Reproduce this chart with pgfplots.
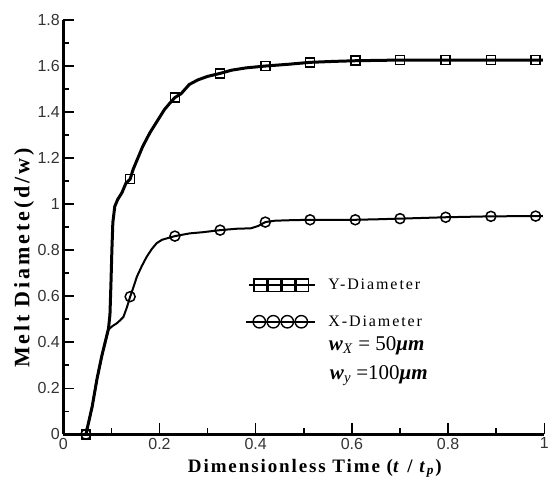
\documentclass[border=0pt]{standalone}
\usepackage{fontspec}
\setmainfont{Liberation Serif}
\newfontfamily\tickfont{Liberation Sans}
\newfontfamily\xlabfont[LetterSpace=10]{Liberation Serif}
\newfontfamily\ylabfont[LetterSpace=13]{Liberation Serif}
\newfontfamily\legfont[LetterSpace=12]{Liberation Serif}
\usepackage{pgfplots}
\pgfplotsset{compat=1.18}
\begin{document}
\begin{tikzpicture}
\begin{axis}[
  scale only axis, width=481pt, height=414.3pt,
  xmin=0, xmax=1, ymin=0, ymax=1.8,
  axis lines=left, axis line style={-, line width=2.5pt},
  tick align=inside, major tick length=11pt, minor tick length=6pt,
  tick style={black, line width=1.5pt},
  minor x tick num=1, minor y tick num=1,
  xtick={0,0.2,0.4,0.6,0.8,1},
  ytick={0,0.2,0.4,0.6,0.8,1,1.2,1.4,1.6,1.8},
  /pgf/number format/assume math mode=true,
  tick label style={font=\fontsize{16}{19}\tickfont, text=black!80},
  clip=false,
  xlabel={\fontsize{19}{20}\xlabfont\bfseries Dimensionless Time (\textit{t} / \textit{t}\textsubscript{\textit{p}})},
  xlabel style={at={(axis description cs:0.523,-0.091)}, anchor=base},
  ylabel={\fontsize{22}{22}\ylabfont\bfseries Melt Diamete(d/w)},
  ylabel style={at={(axis description cs:-0.0817,0.425)}, anchor=center},
  legend style={draw=none, fill=none, inner sep=0pt, row sep=24pt, column sep=12pt,
    font=\fontsize{16}{16}\legfont, at={(axis cs:0.378,0.675)}, anchor=north west,
    nodes={inner sep=0pt}},
  legend cell align=left,
]
\addplot[black, line width=3pt,
  legend image code/.code={
    \draw[black, line width=2pt] (0pt,0pt) -- (66pt,0pt);
    \draw[black, line width=1.4pt] plot[only marks, mark=square, mark size=6.2pt]
      coordinates {(11pt,0pt) (25pt,0pt) (39pt,0pt) (53pt,0pt)};
  }] coordinates {
(0.047,0) (0.060,0.12) (0.070,0.24) (0.080,0.34) (0.094,0.46) (0.097,0.52)
(0.099,0.65) (0.101,0.80) (0.103,0.92) (0.107,0.99) (0.113,1.02) (0.122,1.05)
(0.130,1.09) (0.139,1.109) (0.145,1.15) (0.155,1.20) (0.165,1.25) (0.180,1.31)
(0.195,1.36) (0.210,1.41) (0.222,1.44) (0.232,1.463) (0.245,1.48) (0.262,1.52)
(0.280,1.54) (0.300,1.555) (0.326,1.568) (0.350,1.582) (0.380,1.592) (0.420,1.600)
(0.470,1.608) (0.513,1.616) (0.560,1.620) (0.607,1.623) (0.700,1.626) (0.795,1.626)
(0.889,1.626) (0.982,1.626) (0.997,1.626)};
\addlegendentry{Y-Diameter}
\addplot[black, line width=2pt,
  legend image code/.code={
    \draw[black, line width=2pt] (-3pt,0pt) -- (66pt,0pt);
    \draw[black, line width=1.4pt] plot[only marks, mark=o, mark size=6.2pt]
      coordinates {(10pt,0pt) (24pt,0pt) (38pt,0pt) (52pt,0pt)};
  }] coordinates {
(0.047,0) (0.060,0.12) (0.070,0.24) (0.080,0.34) (0.094,0.455) (0.102,0.47)
(0.111,0.482) (0.118,0.495) (0.125,0.51) (0.132,0.55) (0.139,0.598) (0.146,0.64)
(0.153,0.685) (0.163,0.73) (0.173,0.77) (0.184,0.805) (0.194,0.83) (0.205,0.845)
(0.215,0.851) (0.232,0.861) (0.25,0.868) (0.263,0.873) (0.29,0.878) (0.326,0.887)
(0.36,0.893) (0.39,0.895) (0.405,0.905) (0.42,0.922) (0.44,0.928) (0.47,0.930)
(0.513,0.932) (0.607,0.932) (0.65,0.934) (0.70,0.937) (0.795,0.943) (0.889,0.947)
(0.982,0.948) (0.997,0.948)};
\addlegendentry{X-Diameter}
\addplot[black, only marks, mark=square, mark size=4.5pt, mark options={line width=1.5pt}, forget plot] coordinates {
(0.047,0) (0.139,1.109) (0.232,1.463) (0.326,1.568) (0.42,1.60) (0.513,1.616)
(0.607,1.623) (0.70,1.626) (0.795,1.626) (0.889,1.626) (0.982,1.626)};
\addplot[black, only marks, mark=o, mark size=5pt, mark options={line width=1.5pt}, forget plot] coordinates {
(0.047,0) (0.139,0.598) (0.232,0.861) (0.326,0.887) (0.42,0.922) (0.513,0.932)
(0.607,0.932) (0.70,0.937) (0.795,0.943) (0.889,0.947) (0.982,0.948)};
\node[anchor=west, font=\fontsize{21}{21}\selectfont] at (axis cs:0.545,0.385)
  {\textbf{\textit{w}}\textsubscript{\textit{X}} = 50\textbf{\textit{μm}}};
\node[anchor=west, font=\fontsize{21}{21}\selectfont] at (axis cs:0.547,0.255)
  {\textbf{\textit{w}}\textsubscript{\textit{y}} =100\textbf{\textit{μm}}};
\end{axis}
\pgfresetboundingbox
\path ([shift={(-63.3pt,-47.7pt)}]current axis.south west) rectangle ([shift={(4.7pt,20pt)}]current axis.north east);
\end{tikzpicture}
\end{document}
